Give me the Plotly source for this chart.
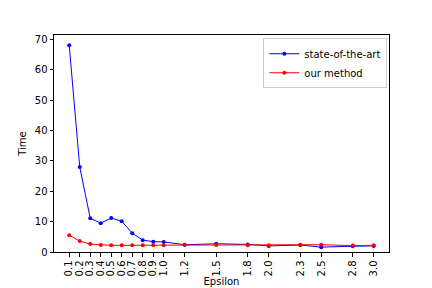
import plotly.graph_objects as go

epsilon = [0.1, 0.2, 0.3, 0.4, 0.5, 0.6, 0.7, 0.8, 0.9, 1.0, 1.2, 1.5, 1.8, 2.0, 2.3, 2.5, 2.8, 3.0]
tick_labels = ["0.1", "0.2", "0.3", "0.4", "0.5", "0.6", "0.7", "0.8", "0.9", "1.0",
               "1.2", "1.5", "1.8", "2.0", "2.3", "2.5", "2.8", "3.0"]
state_of_the_art = [68.0, 28.0, 11.1, 9.5, 11.2, 10.1, 6.2, 3.9, 3.4, 3.3,
                    2.4, 2.7, 2.5, 2.0, 2.3, 1.6, 1.9, 2.0]
our_method = [5.5, 3.6, 2.6, 2.3, 2.2, 2.2, 2.2, 2.2, 2.2, 2.2,
              2.3, 2.3, 2.2, 2.2, 2.3, 2.4, 2.1, 2.2]

font = dict(family="DejaVu Sans", size=10, color="black")

fig = go.Figure()
fig.add_trace(go.Scatter(x=epsilon, y=state_of_the_art, mode="lines+markers",
                         name="state-of-the-art",
                         line=dict(color="blue", width=1),
                         marker=dict(color="blue", size=4)))
fig.add_trace(go.Scatter(x=epsilon, y=our_method, mode="lines+markers",
                         name="our method",
                         line=dict(color="red", width=1),
                         marker=dict(color="red", size=4)))

axis_common = dict(showline=True, linecolor="black", linewidth=1, mirror=True,
                   ticks="outside", ticklen=3.5, tickwidth=1, tickcolor="black",
                   showgrid=False, zeroline=False, tickfont=font, automargin=False)

fig.update_layout(
    width=432, height=288,
    margin=dict(l=54, r=43, t=35, b=36),
    paper_bgcolor="white", plot_bgcolor="white",
    font=font,
    showlegend=True,
    legend=dict(x=0.995, y=0.985, xanchor="right", yanchor="top",
                bgcolor="rgba(255,255,255,0.8)", bordercolor="#cccccc", borderwidth=1,
                font=dict(family="DejaVu Sans", size=10, color="black"),
                tracegroupgap=0, itemwidth=30),
    xaxis=dict(axis_common, range=[-0.045, 3.145], tickmode="array",
               tickvals=epsilon, ticktext=tick_labels, tickangle=-90,
               title=dict(text="Epsilon", font=font, standoff=2)),
    yaxis=dict(axis_common, range=[0, 71.4], tickmode="array",
               tickvals=[0, 10, 20, 30, 40, 50, 60, 70],
               title=dict(text="Time", font=font, standoff=6)),
)

fig.write_html("out.html", config={"displayModeBar": False},
               post_script="document.body.style.margin='0';document.body.style.padding='0';")
